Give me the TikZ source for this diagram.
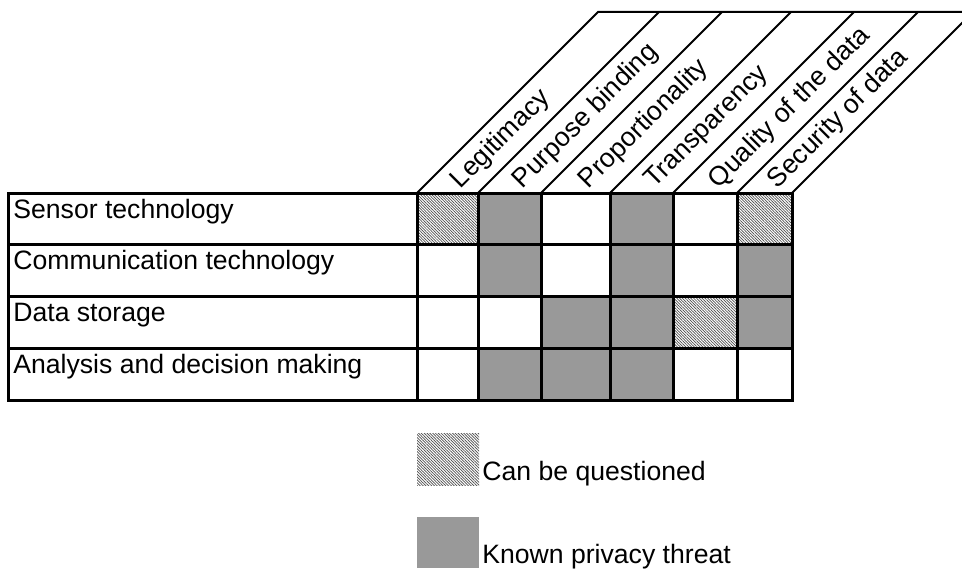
\documentclass[tikz,border=0pt]{standalone}
\usepackage{fontspec}
\setmainfont{Liberation Sans}
\usetikzlibrary{patterns.meta}
\definecolor{threat}{gray}{0.6}

\begin{document}
\begin{tikzpicture}[x=0.5pt,y=0.5pt,
  font=\fontsize{13.3}{15}\selectfont,
  known/.style={fill=threat},
  doubt/.style={pattern={Lines[angle=-45,distance=1pt,line width=0.35pt]},pattern color=black!70},
  grid/.style={line width=1.5pt},
  slant/.style={line width=1pt},
  head/.style={rotate=45,anchor=west,inner sep=0pt},
  row/.style={anchor=base west,inner sep=0pt}]

\clip (0,0) rectangle (962,569);

% questionable cells
\fill[doubt] (417,325) rectangle (478,376);
\fill[doubt] (737,325) rectangle (792,376);
\fill[doubt] (673,221) rectangle (737,273);

% known threats
\fill[known] (478,325) rectangle (541,376);
\fill[known] (610,325) rectangle (673,376);
\fill[known] (478,273) rectangle (541,325);
\fill[known] (610,273) rectangle (673,325);
\fill[known] (737,273) rectangle (792,325);
\fill[known] (541,221) rectangle (673,273);
\fill[known] (737,221) rectangle (792,273);
\fill[known] (478,169) rectangle (673,221);

% table
\draw[grid] (8,169) rectangle (792,376);
\draw[grid] (8,325) -- (792,325);
\draw[grid] (8,273) -- (792,273);
\draw[grid] (8,221) -- (792,221);
\draw[grid] (417,169) -- (417,376);
\draw[grid] (478,169) -- (478,376);
\draw[grid] (541,169) -- (541,376);
\draw[grid] (610,169) -- (610,376);
\draw[grid] (673,169) -- (673,376);
\draw[grid] (737,169) -- (737,376);

% slanted header
\draw[slant] (417,376) -- (598,557) -- (962,557);
\draw[slant] (478,376) -- (659,557);
\draw[slant] (541,376) -- (722,557);
\draw[slant] (610,376) -- (791,557);
\draw[slant] (673,376) -- (854,557);
\draw[slant] (737,376) -- (918,557);
\draw[slant] (792,376) -- (973,557);

\node[head] (legit) at (455.8,384.3) {Legitimacy};
\node[head] (purpose) at (517.8,384.3) {Purpose binding};
\node[head] (propor) at (583.8,384.3) {Proportionality};
\node[head] (transp) at (649.8,384.3) {Transparency};
\node[head] (quality) at (713.3,384.3) {Quality of the data};
\node[head] (secur) at (772.8,384.3) {Security of data};

% row labels
\node[row] (sensor) at (13,351) {Sensor technology};
\node[row] (comm) at (13,300) {Communication technology};
\node[row] (store) at (13,248) {Data storage};
\node[row] (analysis) at (13,196) {Analysis and decision making};

% legend
\fill[doubt] (417,84) rectangle (479,136);
\node[row] (questioned) at (482,89) {Can be questioned};
\fill[known] (417,1) rectangle (479,52);
\node[row] (threat) at (482,6) {Known privacy threat};

\end{tikzpicture}
\end{document}
